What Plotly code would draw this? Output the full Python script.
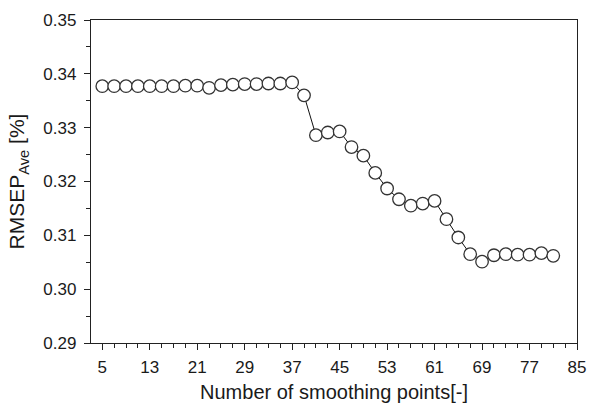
import plotly.graph_objects as go

smoothing_points = list(range(5, 83, 2))
rmsep_ave = [0.3377, 0.3377, 0.3377, 0.3377, 0.3377, 0.3377, 0.3377, 0.3378, 0.3378,
             0.3374, 0.3379, 0.3380, 0.3381, 0.3381, 0.3382, 0.3382, 0.3384,
             0.3360, 0.3286, 0.3291, 0.3293, 0.3264, 0.3248, 0.3216, 0.3187,
             0.3167, 0.3155, 0.3159, 0.3164, 0.3130, 0.3096, 0.3065, 0.3051,
             0.3063, 0.3065, 0.3064, 0.3064, 0.3067, 0.3062]

x_ticks = list(range(5, 86, 8))

FONT = "Liberation Sans, Arial, sans-serif"

fig = go.Figure()
fig.add_trace(go.Scatter(
    x=smoothing_points, y=rmsep_ave, mode="lines+markers",
    line=dict(color="#111111", width=1),
    marker=dict(symbol="circle", size=12.5, color="white",
                line=dict(color="#333333", width=1.3)),
    showlegend=False,
))

axis_common = dict(
    showline=True, linecolor="#222222", linewidth=1.4, mirror=True,
    ticks="outside", ticklen=6, tickwidth=1.3, tickcolor="#222222",
    showgrid=False, zeroline=False, automargin=False,
    tickfont=dict(family=FONT, size=17, color="#1a1a1a"),
)

fig.update_xaxes(
    range=[3.1, 85], tickmode="array", tickvals=x_ticks,
    minor=dict(dtick=2, tick0=5, ticks="outside", ticklen=4, tickcolor="#222222", tickwidth=1),
    ticklabelstandoff=2,
    title=dict(text="Number of smoothing points[-]",
               font=dict(family=FONT, size=20, color="#1a1a1a"),
               standoff=14),
    **axis_common,
)
fig.update_yaxes(
    range=[0.29, 0.35], dtick=0.01, tick0=0.29, tickformat=".2f",
    minor=dict(dtick=0.005, tick0=0.29, ticks="outside", ticklen=4, tickcolor="#222222", tickwidth=1),
    ticklabelstandoff=4,
    title=dict(text="RMSEP<sub>Ave</sub> [%]",
               font=dict(family=FONT, size=21, color="#1a1a1a"),
               standoff=12),
    **axis_common,
)

fig.update_layout(
    width=589, height=403,
    margin=dict(l=91, r=12, t=20, b=60),
    paper_bgcolor="white", plot_bgcolor="white",
)

fig.write_html("out.html")
